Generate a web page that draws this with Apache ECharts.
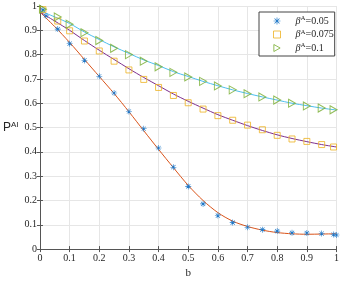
<!DOCTYPE html>
<html>
<head>
<meta charset="utf-8">
<script src="https://cdn.jsdelivr.net/npm/echarts@6/dist/echarts.min.js"></script>
<style>
  html, body { margin: 0; padding: 0; background: #fff; }
  #chart { width: 342px; height: 284px; }
</style>
</head>
<body>
<div id="chart"></div>
<script>
// measured points (markers)
var bStar = [0.01, 0.02, 0.06, 0.1, 0.15, 0.2, 0.25, 0.3, 0.35, 0.4, 0.45, 0.5, 0.55, 0.6, 0.65, 0.7, 0.75, 0.8, 0.85, 0.9, 0.95, 0.99, 1.0];
var pStar = [0.984, 0.96, 0.905, 0.845, 0.776, 0.711, 0.642, 0.566, 0.495, 0.416, 0.337, 0.258, 0.186, 0.138, 0.109, 0.09, 0.08, 0.074, 0.067, 0.066, 0.064, 0.06, 0.058];

var bMark = [0.01, 0.06, 0.1, 0.15, 0.2, 0.25, 0.3, 0.35, 0.4, 0.45, 0.5, 0.55, 0.6, 0.65, 0.7, 0.75, 0.8, 0.85, 0.9, 0.95, 0.99];
var pSquare = [0.985, 0.938, 0.898, 0.856, 0.815, 0.773, 0.737, 0.698, 0.665, 0.632, 0.602, 0.576, 0.549, 0.53, 0.51, 0.491, 0.468, 0.453, 0.443, 0.43, 0.42];
var pTri = [0.987, 0.955, 0.925, 0.89, 0.858, 0.826, 0.8, 0.773, 0.75, 0.727, 0.708, 0.69, 0.671, 0.655, 0.639, 0.626, 0.613, 0.6, 0.589, 0.58, 0.573];

// fitted curves
var bFit = [0, 0.05, 0.1, 0.15, 0.2, 0.25, 0.3, 0.35, 0.4, 0.45, 0.5, 0.55, 0.6, 0.65, 0.7, 0.75, 0.8, 0.85, 0.9, 0.95, 1.0];
var fitOrange = [0.975, 0.915, 0.85, 0.78, 0.71, 0.64, 0.565, 0.487, 0.41, 0.335, 0.262, 0.2, 0.15, 0.115, 0.093, 0.078, 0.068, 0.063, 0.061, 0.062, 0.063];
var fitPurple = [0.975, 0.938, 0.9, 0.858, 0.818, 0.78, 0.742, 0.706, 0.672, 0.638, 0.608, 0.58, 0.553, 0.53, 0.508, 0.488, 0.47, 0.455, 0.442, 0.43, 0.42];
var fitCyan = [0.98, 0.955, 0.928, 0.893, 0.862, 0.832, 0.805, 0.778, 0.755, 0.73, 0.71, 0.69, 0.672, 0.655, 0.64, 0.626, 0.613, 0.6, 0.59, 0.58, 0.572];

var legendText = {
    'b0.05': '{g|}{b|β}{s|A}{t|=0.05}',
    'b0.075': '{g|}{b|β}{s|A}{t|=0.075}',
    'b0.1': '{g|}{b|β}{s|A}{t|=0.1}'
};

function pairs(xs, ys) {
    var out = [];
    for (var i = 0; i < xs.length; i++) out.push([xs[i], ys[i]]);
    return out;
}

var asterisk = 'path://M0,4.5L10,4.5L10,5.5L0,5.5Z M4.5,0L5.5,0L5.5,10L4.5,10Z M1.1,1.8L1.8,1.1L8.9,8.2L8.2,8.9Z M8.2,1.1L8.9,1.8L1.8,8.9L1.1,8.2Z';
var triRight = 'path://M0,0L9,5L0,10Z';

var axisColor = '#555';
var textColor = '#262626';
var font = '"Liberation Serif", "Times New Roman", serif';
var hollow = 'rgba(255,255,255,0)';

var chart = echarts.init(document.getElementById('chart'));
chart.setOption({
    backgroundColor: '#fff',
    animation: false,
    grid: { left: 30, right: 4, top: 6, bottom: 25 },
    legend: {
        data: [
            { name: 'b0.05', icon: asterisk, itemStyle: { color: '#1f78c8' } },
            { name: 'b0.075', icon: 'rect', itemStyle: { color: hollow, borderColor: '#EDB120', borderWidth: 1 } },
            { name: 'b0.1', icon: triRight, itemStyle: { color: hollow, borderColor: '#77AC30', borderWidth: 1 } }
        ],
        orient: 'vertical',
        left: 259,
        top: 12,
        itemWidth: 7,
        itemHeight: 7,
        itemGap: 1.5,
        padding: [3, 1, 2, 14],
        backgroundColor: '#fff',
        borderColor: '#444',
        borderWidth: 1,
        borderRadius: 0,
        formatter: function (name) { return legendText[name]; },
        textStyle: {
            color: textColor,
            fontFamily: font,
            rich: {
                g: { width: 10, lineHeight: 12 },
                b: { fontSize: 10, fontStyle: 'italic', fontFamily: font, lineHeight: 12, color: textColor },
                s: { fontSize: 7, fontFamily: font, lineHeight: 8, verticalAlign: 'top', color: textColor },
                t: { fontSize: 10, fontFamily: font, lineHeight: 12, color: textColor }
            }
        }
    },
    xAxis: [{
        type: 'value', min: 0, max: 1, interval: 0.1,
        name: 'b', nameLocation: 'middle', nameGap: 13,
        nameTextStyle: { fontFamily: font, fontSize: 11, color: textColor },
        axisLine: { lineStyle: { color: axisColor, width: 1 } },
        axisTick: { inside: true, length: 3, lineStyle: { color: axisColor } },
        axisLabel: { fontFamily: font, fontSize: 10, color: textColor, margin: 4 },
        splitLine: { show: true, lineStyle: { color: '#e6e6e6', width: 1 } }
    }, {
        type: 'value', min: 0, max: 1, interval: 0.1, position: 'top',
        axisLine: { lineStyle: { color: axisColor, width: 1 } },
        axisTick: { inside: true, length: 3, lineStyle: { color: axisColor } },
        axisLabel: { show: false },
        splitLine: { show: false }
    }],
    yAxis: [{
        type: 'value', min: 0, max: 1, interval: 0.1,
        name: '{p|P}{s|AI}', nameLocation: 'middle', nameRotate: 0, nameGap: 14,
        nameTextStyle: {
            rich: {
                p: { fontSize: 12, fontFamily: '"Liberation Sans", Arial, sans-serif', lineHeight: 14, color: textColor },
                s: { fontSize: 8, fontFamily: '"Liberation Sans", Arial, sans-serif', lineHeight: 9, verticalAlign: 'top', color: textColor }
            }
        },
        axisLine: { show: true, lineStyle: { color: axisColor, width: 1 } },
        axisTick: { show: true, inside: true, length: 3, lineStyle: { color: axisColor } },
        axisLabel: { fontFamily: font, fontSize: 10, color: textColor, margin: 3 },
        splitLine: { show: true, lineStyle: { color: '#e6e6e6', width: 1 } }
    }, {
        type: 'value', min: 0, max: 1, interval: 0.1, position: 'right',
        axisLine: { show: true, lineStyle: { color: axisColor, width: 1 } },
        axisTick: { show: true, inside: true, length: 3, lineStyle: { color: axisColor } },
        axisLabel: { show: false },
        splitLine: { show: false }
    }],
    series: [
        {
            name: 'fit1', type: 'line', data: pairs(bFit, fitOrange), smooth: 0.3,
            showSymbol: false, z: 2,
            lineStyle: { color: '#D95319', width: 1 }
        },
        {
            name: 'fit2', type: 'line', data: pairs(bFit, fitPurple), smooth: 0.3,
            showSymbol: false, z: 2,
            lineStyle: { color: '#7E2F8E', width: 1 }
        },
        {
            name: 'fit3', type: 'line', data: pairs(bFit, fitCyan), smooth: 0.3,
            showSymbol: false, z: 2,
            lineStyle: { color: '#4DBEEE', width: 1 }
        },
        {
            name: 'b0.05', type: 'scatter', data: pairs(bStar, pStar),
            symbol: asterisk, symbolSize: 6, z: 3,
            itemStyle: { color: '#1f78c8', opacity: 1 }
        },
        {
            name: 'b0.075', type: 'scatter', data: pairs(bMark, pSquare),
            symbol: 'rect', symbolSize: 6, z: 3,
            itemStyle: { color: hollow, borderColor: '#EDB120', borderWidth: 1 }
        },
        {
            name: 'b0.1', type: 'scatter', data: pairs(bMark, pTri),
            symbol: triRight, symbolSize: [7, 8], z: 3,
            itemStyle: { color: hollow, borderColor: '#77AC30', borderWidth: 1 }
        }
    ]
});
</script>
</body>
</html>
